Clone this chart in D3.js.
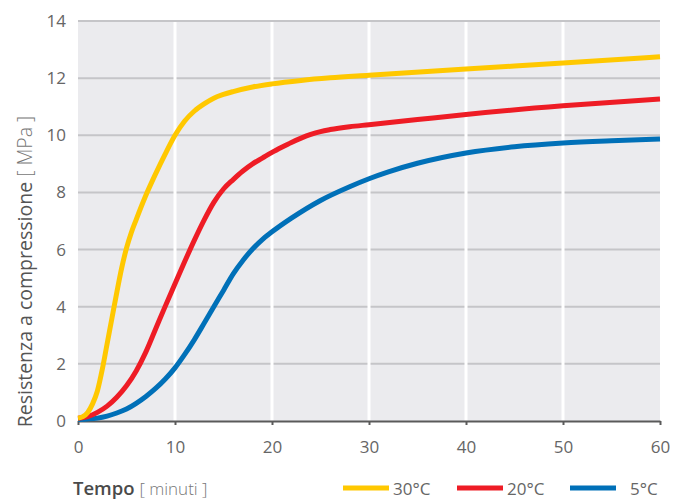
<!DOCTYPE html>
<html><head><meta charset="utf-8">
<script src="https://cdn.jsdelivr.net/npm/d3@7"></script>
<style>body{margin:0;background:#fff}svg{display:block}text{font-family:"Open Sans",sans-serif}</style>
</head><body><svg id="c" width="683" height="499"></svg>
<script>
const xTicks = [0,10,20,30,40,50,60];
const yTicks = [0,2,4,6,8,10,12,14];
const seriesNames = ["30°C","20°C","5°C"];
const seriesColors = ["#ffc800","#ee1c25","#0070b8"];
const t30 = [0,0.5,1,1.5,2,2.5,3,3.5,4,4.5,5,5.5,6,7,8,9,10,11,12,13,14,15,16,18,20,23,26,30,40,50,60];
const v30 = [0.1,0.15,0.3,0.6,1.05,1.8,2.7,3.6,4.5,5.35,6.05,6.6,7.05,7.9,8.65,9.35,10.0,10.5,10.85,11.1,11.3,11.43,11.53,11.69,11.8,11.92,12.01,12.1,12.32,12.53,12.75];
const t20 = [0,1,2,3,4,5,6,7,8,9,10,11,12,13,14,15,16,17,18,19,20,21,22,23,24,25,26,28,30,35,40,50,60];
const v20 = [0.1,0.15,0.3,0.52,0.83,1.23,1.75,2.42,3.22,4.02,4.8,5.58,6.33,7.03,7.65,8.12,8.45,8.75,9.0,9.2,9.4,9.58,9.75,9.9,10.03,10.13,10.2,10.3,10.37,10.55,10.73,11.03,11.27];
const t5 = [0,2,3,4,5,6,7,8,9,10,11,12,13,14,15,16,17,18,19,20,22,25,28,30,32,35,40,45,50,55,60];
const v5 = [0.05,0.1,0.17,0.28,0.42,0.62,0.86,1.14,1.47,1.86,2.33,2.85,3.42,4.0,4.57,5.15,5.62,6.02,6.35,6.62,7.1,7.72,8.2,8.48,8.72,9.02,9.38,9.6,9.73,9.81,9.87];

const svg = d3.select("#c");
const x = d3.scaleLinear().domain([0,60]).range([78,660]);
const y = d3.scaleLinear().domain([0,14]).range([421,21]);

svg.append("rect").attr("x",x(0)).attr("y",y(14)).attr("width",x(60)-x(0)).attr("height",y(0)-y(14)).attr("fill","#ebebee");
svg.append("g").selectAll("line").data(yTicks.filter(d=>d>0)).join("line")
  .attr("x1",x(0)).attr("x2",x(60)).attr("y1",d=>y(d)).attr("y2",d=>y(d))
  .attr("stroke","#c5c5c8").attr("stroke-width",2);
svg.append("g").selectAll("line").data(xTicks.filter(d=>d>0&&d<60)).join("line")
  .attr("x1",d=>x(d)).attr("x2",d=>x(d)).attr("y1",y(14)+1).attr("y2",y(0))
  .attr("stroke","#ffffff").attr("stroke-width",3);

const xAxis = d3.axisBottom(x).tickValues(xTicks).tickSize(4).tickPadding(16).tickSizeOuter(0);
const gx = svg.append("g").attr("transform",`translate(0,${y(0)})`).call(xAxis);
gx.select(".domain").attr("stroke","#5a5a5a").attr("stroke-width",2);
gx.selectAll(".tick line").attr("stroke","#5a5a5a").attr("stroke-width",2);
gx.selectAll("text").attr("fill","#666").attr("font-size",17).attr("font-family","Open Sans");

const yAxis = d3.axisLeft(y).tickValues(yTicks).tickSize(0).tickPadding(12);
const gy = svg.append("g").attr("transform",`translate(${x(0)},0)`).call(yAxis);
gy.select(".domain").remove();
gy.selectAll("text").attr("fill","#666").attr("font-size",17).attr("font-family","Open Sans");

const line = d3.line().x(d=>x(d[0])).y(d=>y(d[1])).curve(d3.curveMonotoneX);
const data = [d3.zip(t30,v30), d3.zip(t20,v20), d3.zip(t5,v5)];
[2,1,0].forEach(i=>{
  svg.append("path").datum(data[i]).attr("d",line).attr("fill","none")
    .attr("stroke",seriesColors[i]).attr("stroke-width",5);
});

const yt = svg.append("text").attr("transform","translate(32,271.5) rotate(-90)")
  .attr("text-anchor","middle").attr("font-size",19.5);
yt.append("tspan").attr("fill","#555").text("Resistenza a compressione ");
yt.append("tspan").attr("fill","#777").attr("font-weight",300).text("[ MPa ]");

const xt = svg.append("text").attr("x",73).attr("y",495).attr("font-size",18.5);
xt.append("tspan").attr("fill","#4a4a4a").attr("font-weight",600).text("Tempo ");
xt.append("tspan").attr("fill","#777").attr("font-size",17).attr("font-weight",300).text("[ minuti ]");

const legX = [343,457,570];
const legTextX = [393,507,630];
seriesNames.forEach((n,i)=>{
  svg.append("line").attr("x1",legX[i]).attr("x2",legX[i]+46).attr("y1",488).attr("y2",488)
    .attr("stroke",seriesColors[i]).attr("stroke-width",5);
  svg.append("text").attr("x",legTextX[i]).attr("y",495).attr("fill","#666").attr("font-size",17).text(n);
});
</script></body></html>
